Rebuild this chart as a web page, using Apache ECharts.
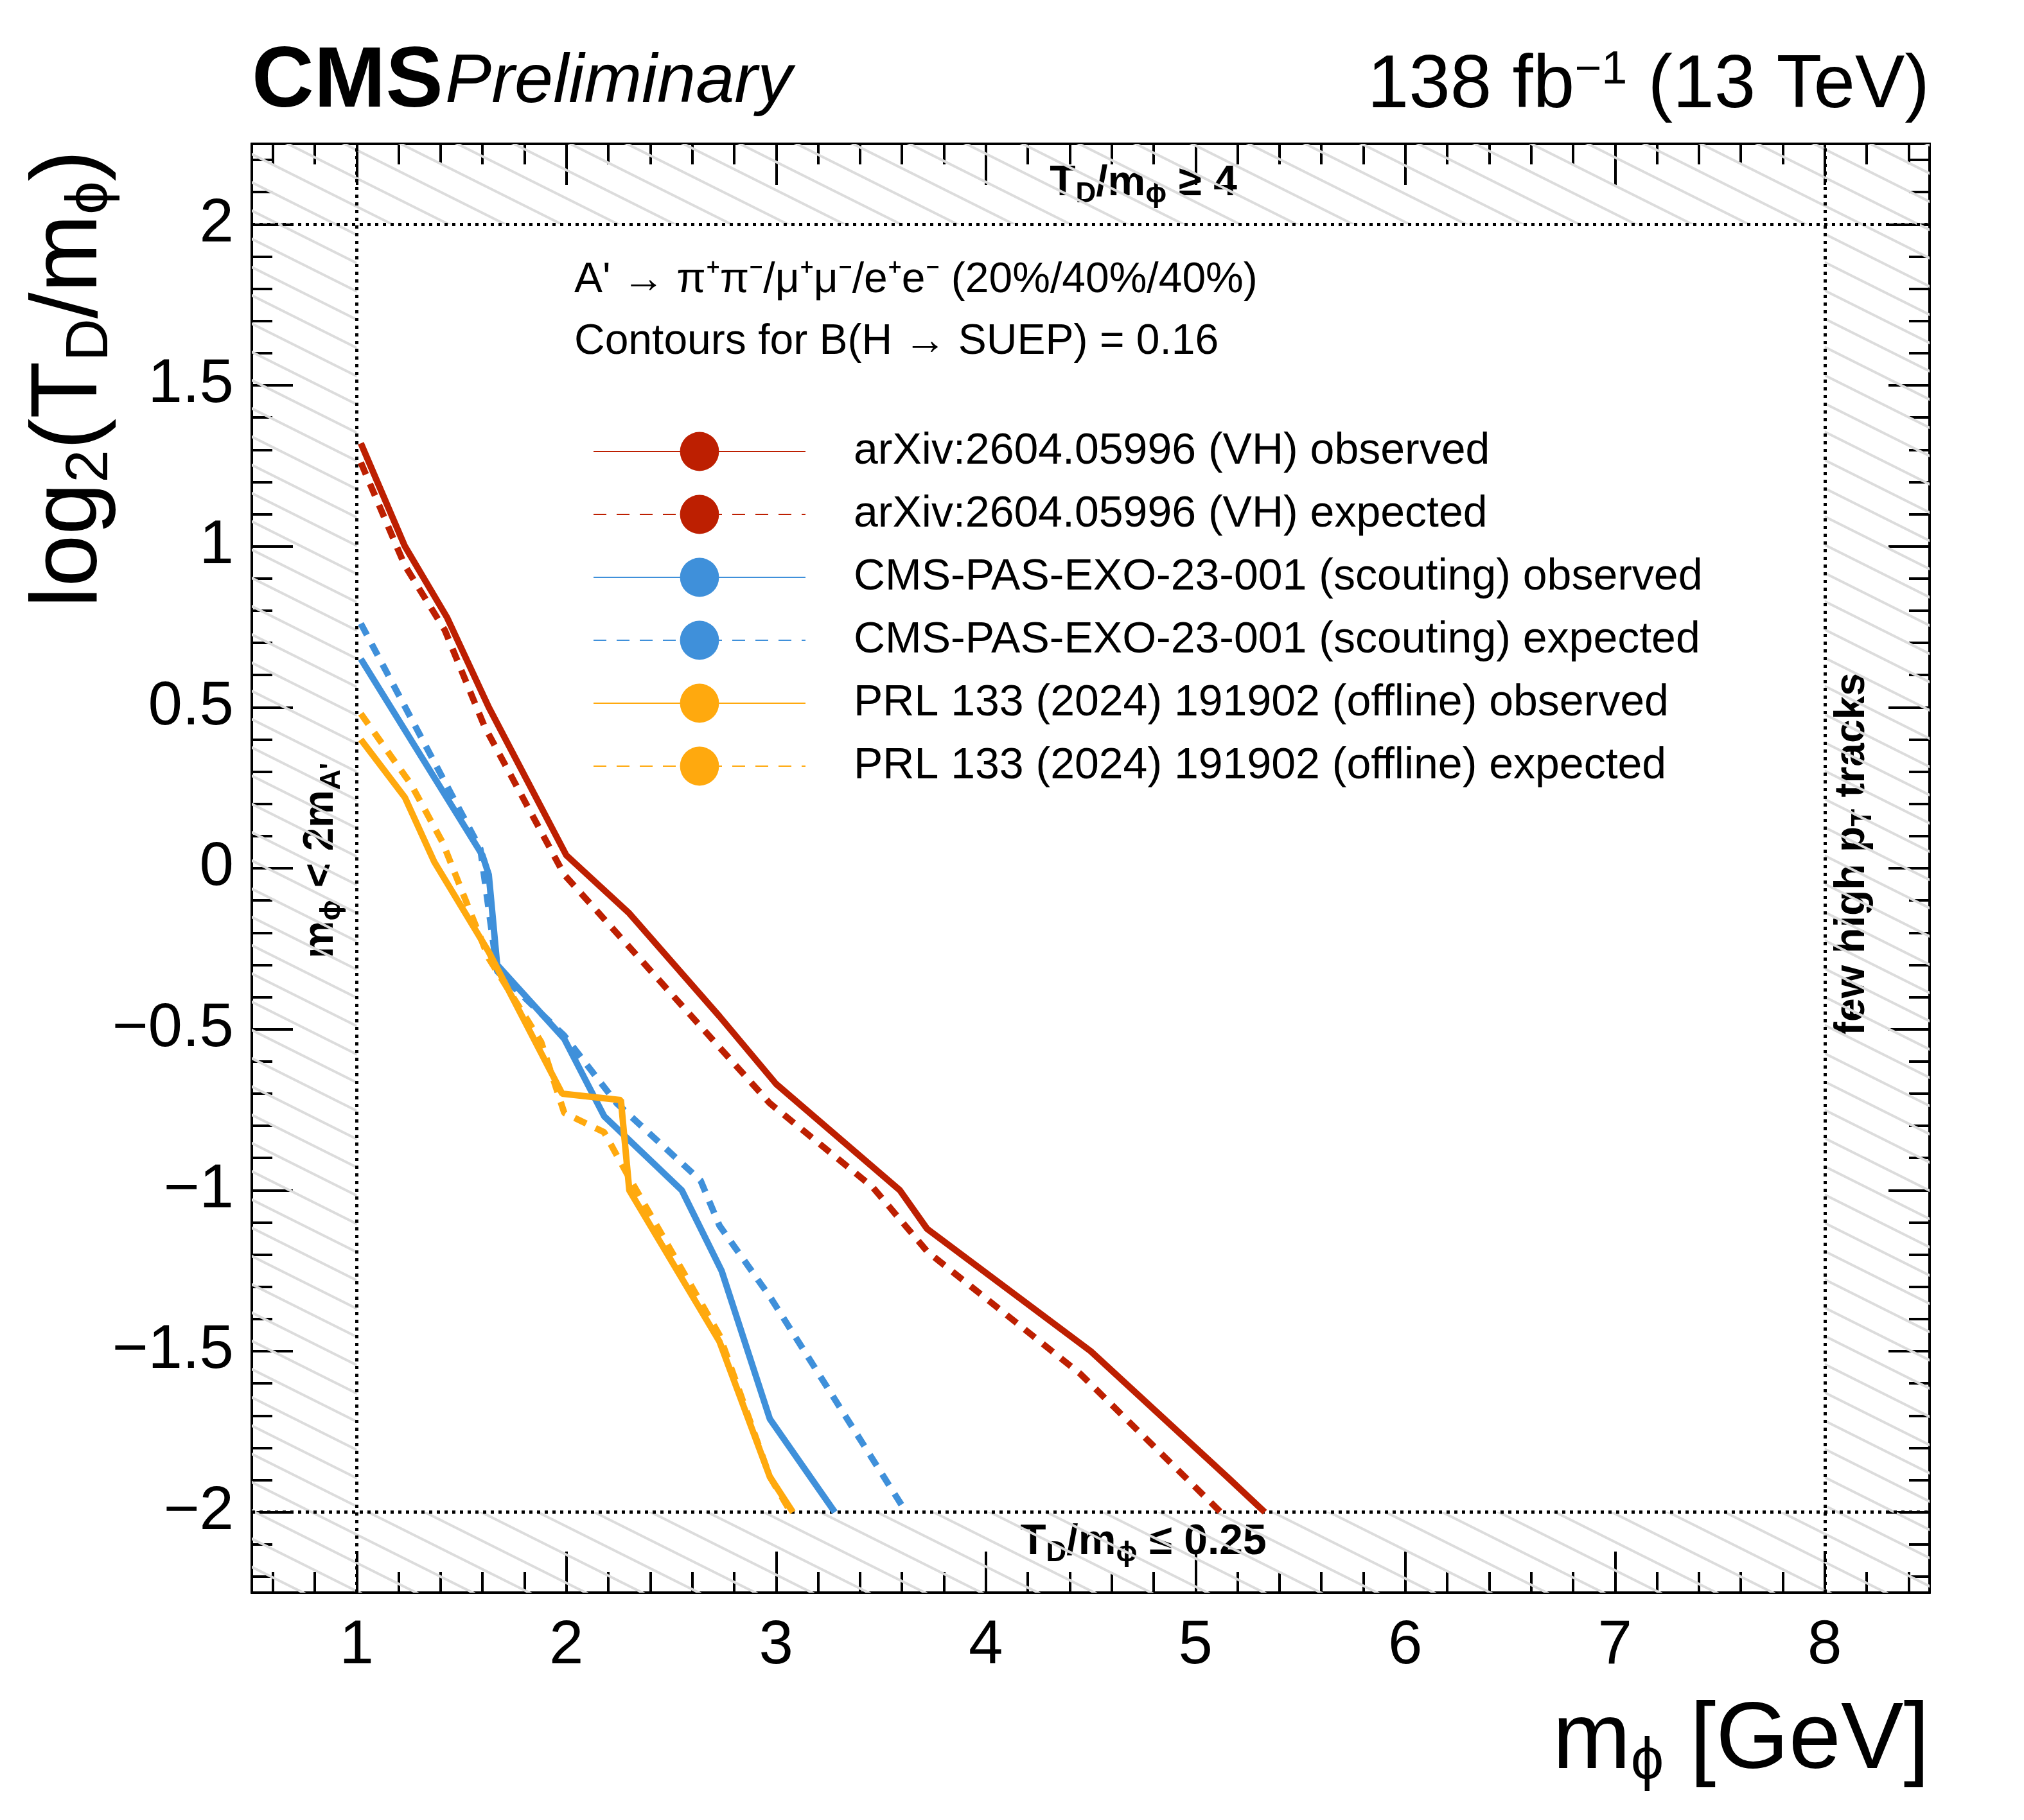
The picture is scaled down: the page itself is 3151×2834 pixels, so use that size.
<!DOCTYPE html>
<html><head><meta charset="utf-8">
<script src="https://cdn.jsdelivr.net/npm/echarts@6/dist/echarts.min.js"></script>
<style>html,body{margin:0;padding:0;background:#fff}#c{width:3151px;height:2834px}</style>
</head><body><div id="c"></div>
<script>
var xMajor = [1, 2, 3, 4, 5, 6, 7, 8];
var yMajor = [-2, -1.5, -1, -0.5, 0, 0.5, 1, 1.5, 2];
var xMinor = [0.6, 0.8, 1.2, 1.4, 1.6, 1.8, 2.2, 2.4, 2.6, 2.8, 3.2, 3.4, 3.6, 3.8, 4.2, 4.4, 4.6, 4.8,
  5.2, 5.4, 5.6, 5.8, 6.2, 6.4, 6.6, 6.8, 7.2, 7.4, 7.6, 7.8, 8.2, 8.4];
var yMinor = [-2.2, -2.1, -1.9, -1.8, -1.7, -1.6, -1.4, -1.3, -1.2, -1.1, -0.9, -0.8, -0.7, -0.6,
  -0.4, -0.3, -0.2, -0.1, 0.1, 0.2, 0.3, 0.4, 0.6, 0.7, 0.8, 0.9, 1.1, 1.2, 1.3, 1.4, 1.6, 1.7, 1.8, 1.9, 2.1, 2.2];

var vhObs = [[1.02, 1.32], [1.23, 1.0], [1.43, 0.78], [1.63, 0.5], [2.0, 0.04], [2.3, -0.14], [2.73, -0.46],
  [3.0, -0.67], [3.59, -1.0], [3.72, -1.12], [4.5, -1.5], [5.15, -1.89], [5.33, -2.0]];
var vhExp = [[1.02, 1.26], [1.23, 0.94], [1.42, 0.74], [1.61, 0.44], [1.99, -0.02], [2.97, -0.73],
  [3.46, -0.99], [3.72, -1.19], [4.45, -1.57], [5.12, -2.0]];
var scObs = [[1.02, 0.65], [1.6, 0.04], [1.63, -0.02], [1.67, -0.3], [1.99, -0.53], [2.18, -0.77],
  [2.55, -1.0], [2.74, -1.25], [2.97, -1.71], [3.28, -2.0]];
var scExp = [[1.02, 0.76], [1.59, 0.06], [1.67, -0.32], [1.99, -0.52], [2.24, -0.73], [2.64, -0.97],
  [2.73, -1.11], [2.97, -1.33], [3.62, -2.0]];
var offObs = [[1.02, 0.4], [1.23, 0.22], [1.37, 0.02], [1.63, -0.26], [1.98, -0.7], [2.26, -0.72],
  [2.3, -1.0], [2.73, -1.47], [2.97, -1.89], [3.08, -2.0]];
var offExp = [[1.02, 0.48], [1.26, 0.26], [1.41, 0.08], [1.63, -0.28], [1.88, -0.54], [1.99, -0.76],
  [2.18, -0.82], [2.29, -0.95], [2.73, -1.45], [2.97, -1.89], [3.07, -2.0]];

var names = ['arXiv:2604.05996 (VH) observed', 'arXiv:2604.05996 (VH) expected',
  'CMS-PAS-EXO-23-001 (scouting) observed', 'CMS-PAS-EXO-23-001 (scouting) expected',
  'PRL 133 (2024) 191902 (offline) observed', 'PRL 133 (2024) 191902 (offline) expected'];
var colors = ['#bd1f01', '#bd1f01', '#3f90da', '#3f90da', '#ffa90e', '#ffa90e'];
var curves = [vhObs, vhExp, scObs, scExp, offObs, offExp];

// hatch pattern
var tile = document.createElement('canvas');
tile.width = 88; tile.height = 44;
var g = tile.getContext('2d');
g.strokeStyle = '#dcdcdc'; g.lineWidth = 4;
g.beginPath();
g.moveTo(-88, -44); g.lineTo(88, 44);
g.moveTo(0, -44); g.lineTo(176, 44);
g.moveTo(-88, 0); g.lineTo(88, 88);
g.stroke();

var F = 'Liberation Sans, Arial, sans-serif';
var PHI = '\u03d5';
var X0 = 0.5, X1 = 8.5, Y0 = -2.25, Y1 = 2.25;
var axisLine = { show: true, onZero: false, lineStyle: { color: '#000', width: 4 } };

function xAx(pos, vals, len, labels) {
  return {
    type: 'value', position: pos, min: X0, max: X1, splitLine: { show: false },
    axisLine: axisLine,
    axisTick: { inside: true, length: len, customValues: vals, lineStyle: { color: '#000', width: 4 } },
    axisLabel: labels ? { customValues: xMajor, fontFamily: F, fontSize: 96, color: '#000', margin: 36 } : { show: false }
  };
}
function yAx(pos, vals, len, labels) {
  return {
    type: 'value', position: pos, min: Y0, max: Y1, splitLine: { show: false },
    axisLine: axisLine,
    axisTick: { inside: true, length: len, customValues: vals, lineStyle: { color: '#000', width: 4 } },
    axisLabel: labels ? {
      customValues: yMajor, fontFamily: F, fontSize: 96, color: '#000', margin: 28,
      formatter: function (v) { return String(v).replace('-', '\u2212'); }
    } : { show: false }
  };
}

var series = curves.map(function (d, i) {
  return {
    name: names[i], type: 'line', data: d, showSymbol: false, symbol: 'none',
    lineStyle: { color: colors[i], width: 10, type: i % 2 ? [20, 16] : 'solid' },
    itemStyle: { color: colors[i] }, z: 5
  };
});
series.push({
  type: 'line', data: [], silent: true,
  markArea: {
    silent: true,
    itemStyle: { color: { image: tile, repeat: 'repeat' } },
    data: [
      [{ coord: [X0, Y0] }, { coord: [1, Y1] }],
      [{ coord: [8, Y0] }, { coord: [X1, Y1] }],
      [{ coord: [1, 2] }, { coord: [8, Y1] }],
      [{ coord: [1, Y0] }, { coord: [8, -2] }]
    ]
  },
  markLine: {
    silent: true, symbol: 'none', label: { show: false },
    lineStyle: { color: '#000', width: 5, type: [5, 7] },
    data: [
      [{ coord: [1, Y0] }, { coord: [1, Y1] }],
      [{ coord: [8, Y0] }, { coord: [8, Y1] }],
      [{ coord: [X0, 2] }, { coord: [X1, 2] }],
      [{ coord: [X0, -2] }, { coord: [X1, -2] }]
    ]
  }
});

function sub(size) { return { fontFamily: F, fontWeight: 'bold', fontSize: size, padding: [34, 0, 0, 0], fill: '#000' }; }

var chart = echarts.init(document.getElementById('c'));
chart.setOption({
  animation: false,
  backgroundColor: '#fff',
  grid: { left: 392, right: 147, top: 224, bottom: 354 },
  xAxis: [xAx('bottom', xMajor, 64, true), xAx('top', xMajor, 64, false),
    xAx('bottom', xMinor, 32, false), xAx('top', xMinor, 32, false)],
  yAxis: [yAx('left', yMajor, 64, true), yAx('right', yMajor, 64, false),
    yAx('left', yMinor, 32, false), yAx('right', yMinor, 32, false)],
  legend: {
    data: names, orient: 'vertical', left: 918, top: 664, itemGap: 30,
    itemWidth: 330, itemHeight: 76,
    textStyle: { fontFamily: F, fontSize: 68, color: '#000', padding: [0, 0, 0, 70] }
  },
  series: series,
  graphic: [
    { type: 'text', left: 392, top: 62, style: { text: '{b|CMS} {i|Preliminary}', rich: {
      b: { fontFamily: F, fontWeight: 'bold', fontSize: 134, fill: '#000' },
      i: { fontFamily: F, fontStyle: 'italic', fontSize: 108, fill: '#000' } } } },
    { type: 'text', right: 147, top: 74, style: { text: '138 fb{s|\u22121} (13 TeV)', fontFamily: F, fontSize: 116, fill: '#000',
      rich: { s: { fontFamily: F, fontSize: 72, verticalAlign: 'top', padding: [0, 0, 50, 0], fill: '#000' } } } },
    { type: 'text', right: 147, top: 2640, style: { text: 'm{s|' + PHI + '} [GeV]', fontFamily: F, fontSize: 146, fill: '#000',
      rich: { s: { fontFamily: F, fontSize: 92, padding: [64, 0, 0, 0], fill: '#000' } } } },
    { type: 'text', x: 110, y: 590, rotation: Math.PI / 2, style: { text: 'log{s|2}(T{s|D}/m{s|' + PHI + '})', fontFamily: F, fontSize: 146, fill: '#000',
      align: 'center', verticalAlign: 'middle',
      rich: { s: { fontFamily: F, fontSize: 92, padding: [64, 0, 0, 0], fill: '#000' } } } },
    { type: 'text', x: 894, y: 404, style: { text: "A' \u2192 \u03c0\u207a\u03c0\u207b/\u03bc\u207a\u03bc\u207b/e\u207ae\u207b (20%/40%/40%)", fontFamily: F, fontSize: 66, fill: '#000' } },
    { type: 'text', x: 894, y: 500, style: { text: 'Contours for B(H \u2192 SUEP) = 0.16', fontFamily: F, fontSize: 66, fill: '#000' } },
    { type: 'text', x: 1780, y: 286, style: { text: 'T{s|D}/m{s|' + PHI + '} \u2265 4', fontFamily: F, fontWeight: 'bold', fontSize: 66, fill: '#000', align: 'center', verticalAlign: 'middle',
      rich: { s: sub(44) } } },
    { type: 'text', x: 1780, y: 2402, style: { text: 'T{s|D}/m{s|' + PHI + '} \u2264 0.25', fontFamily: F, fontWeight: 'bold', fontSize: 66, fill: '#000', align: 'center', verticalAlign: 'middle',
      rich: { s: sub(44) } } },
    { type: 'text', x: 500, y: 1340, rotation: Math.PI / 2, style: { text: 'm{s|' + PHI + '} < 2m{s|A\'}', fontFamily: F, fontWeight: 'bold', fontSize: 66, fill: '#000', align: 'center', verticalAlign: 'middle',
      rich: { s: sub(44) } } },
    { type: 'text', x: 2884, y: 1330, rotation: Math.PI / 2, style: { text: 'few high p{s|T} tracks', fontFamily: F, fontWeight: 'bold', fontSize: 66, fill: '#000', align: 'center', verticalAlign: 'middle',
      rich: { s: sub(44) } } }
  ]
});
</script></body></html>
